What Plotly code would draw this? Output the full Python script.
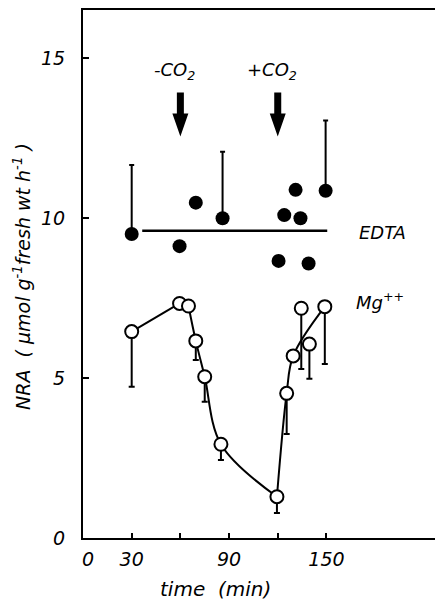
import plotly.graph_objects as go

# Nitrate reductase activity over time, leaves pretreated with EDTA or Mg++
edta_time = [30, 59.5, 69.5, 86, 120.5, 124, 131, 134, 139, 149.5]
edta_nra = [9.5, 9.12, 10.48, 9.99, 8.66, 10.09, 10.88, 9.99, 8.58, 10.85]
edta_err_up = [2.16, 0, 0, 2.08, 0, 0, 0, 0, 0, 2.2]
edta_level = 9.6
edta_span = [36.5, 150.5]

mg_time = [30, 59.5, 65, 69.5, 75, 85, 119.5, 125.5, 129.5, 134.5, 139.5, 149]
mg_nra = [6.45, 7.33, 7.25, 6.16, 5.04, 2.93, 1.29, 4.52, 5.69, 7.18, 6.06, 7.23]
mg_err_down = [1.72, 0, 0, 0.6, 0.78, 0.49, 0.51, 1.27, 0, 1.9, 1.08, 1.79]
# fitted course through the Mg++ points (indices into the arrays above)
mg_curve = [([0, 1], "linear"), ([2, 3, 4, 5, 6], "spline"), ([6, 7, 8, 11], "spline")]

# CO2 removal / re-supply events
events = [(60, "-CO<sub>2</sub>"), (120, "+CO<sub>2</sub>")]

x_ticks = [0, 30, 60, 90, 120, 150]
x_labels = ["", "30", "", "90", "", "150"]
y_ticks = [0, 5, 10, 15]

FONT = "DejaVu Sans"
ink = "black"


def italic(size):
    return dict(family=FONT, size=size, color=ink, style="italic")


fig = go.Figure()

for idx, shape in mg_curve:
    fig.add_trace(go.Scatter(
        x=[mg_time[i] for i in idx], y=[mg_nra[i] for i in idx],
        mode="lines", line=dict(color=ink, width=2, shape=shape, smoothing=1.0),
        hoverinfo="skip", showlegend=False))

fig.add_trace(go.Scatter(
    x=edta_span, y=[edta_level, edta_level], mode="lines",
    line=dict(color=ink, width=2.5), showlegend=False))

fig.add_trace(go.Scatter(
    x=mg_time, y=mg_nra, mode="markers",
    marker=dict(symbol="circle", size=13, color="white", line=dict(color=ink, width=2)),
    error_y=dict(type="data", symmetric=False, array=[0] * len(mg_nra),
                 arrayminus=mg_err_down, color=ink, thickness=2, width=3),
    showlegend=False))

fig.add_trace(go.Scatter(
    x=edta_time, y=edta_nra, mode="markers",
    marker=dict(symbol="circle", size=14, color=ink),
    error_y=dict(type="data", symmetric=False, array=edta_err_up,
                 arrayminus=[0] * len(edta_nra), color=ink, thickness=2, width=2.5),
    showlegend=False))

# downward arrows marking the CO2 events (pixel-sized, anchored at the tip)
arrow_tip = 12.55
arrow_path = "M -3.5,44 L 3.5,44 L 3.5,23 L 8,23 L 0,0 L -8,23 L -3.5,23 Z"
for t, label in events:
    fig.add_shape(type="path", xref="x", yref="y", xsizemode="pixel", ysizemode="pixel",
                  xanchor=t, yanchor=arrow_tip, path=arrow_path,
                  fillcolor=ink, line=dict(width=0))
    fig.add_annotation(x=t, y=14.6, xref="x", yref="y", text=label, showarrow=False,
                       xshift=-6, font=italic(18))

fig.add_annotation(x=184.5, y=9.56, xref="x", yref="y", text="EDTA", showarrow=False,
                   font=italic(18))
fig.add_annotation(x=183, y=7.4, xref="x", yref="y", text="Mg<sup>++</sup>", showarrow=False,
                   font=italic(18))

# origin label sits just right of the axis corner
fig.add_annotation(x=0, y=0, xref="x", yref="paper", text="0", showarrow=False,
                   xshift=5, yshift=-21, xanchor="center", yanchor="middle", font=italic(19))

fig.add_annotation(x=0, y=0.5, xref="paper", yref="paper", xshift=-61, yshift=-3,
                   textangle=-90,
                   text="NRA  ( <i>µ</i>mol g<sup>-1</sup>fresh wt h<sup>-1</sup> )",
                   showarrow=False, xanchor="center", yanchor="middle", font=italic(19))
fig.add_annotation(x=0.375, y=0, xref="paper", yref="paper", yshift=-51,
                   text="time  (min)", showarrow=False, xanchor="center", yanchor="middle",
                   font=italic(20))

fig.update_layout(
    width=435, height=600,
    margin=dict(l=83, r=0, t=10, b=62),
    plot_bgcolor="white", paper_bgcolor="white",
    xaxis=dict(range=[0, 216.9], tickvals=x_ticks, ticktext=x_labels,
               ticks="inside", ticklen=5, tickwidth=2, tickcolor=ink,
               showline=True, linecolor=ink, linewidth=2, mirror=True,
               showgrid=False, zeroline=False, ticklabelstandoff=3,
               tickfont=italic(19)),
    yaxis=dict(range=[0, 16.5], tickvals=y_ticks,
               ticks="inside", ticklen=6, tickwidth=2, tickcolor=ink,
               showline=True, linecolor=ink, linewidth=2,
               showgrid=False, zeroline=False, ticklabelstandoff=12,
               tickfont=italic(19)),
)

fig.write_html("out.html")
